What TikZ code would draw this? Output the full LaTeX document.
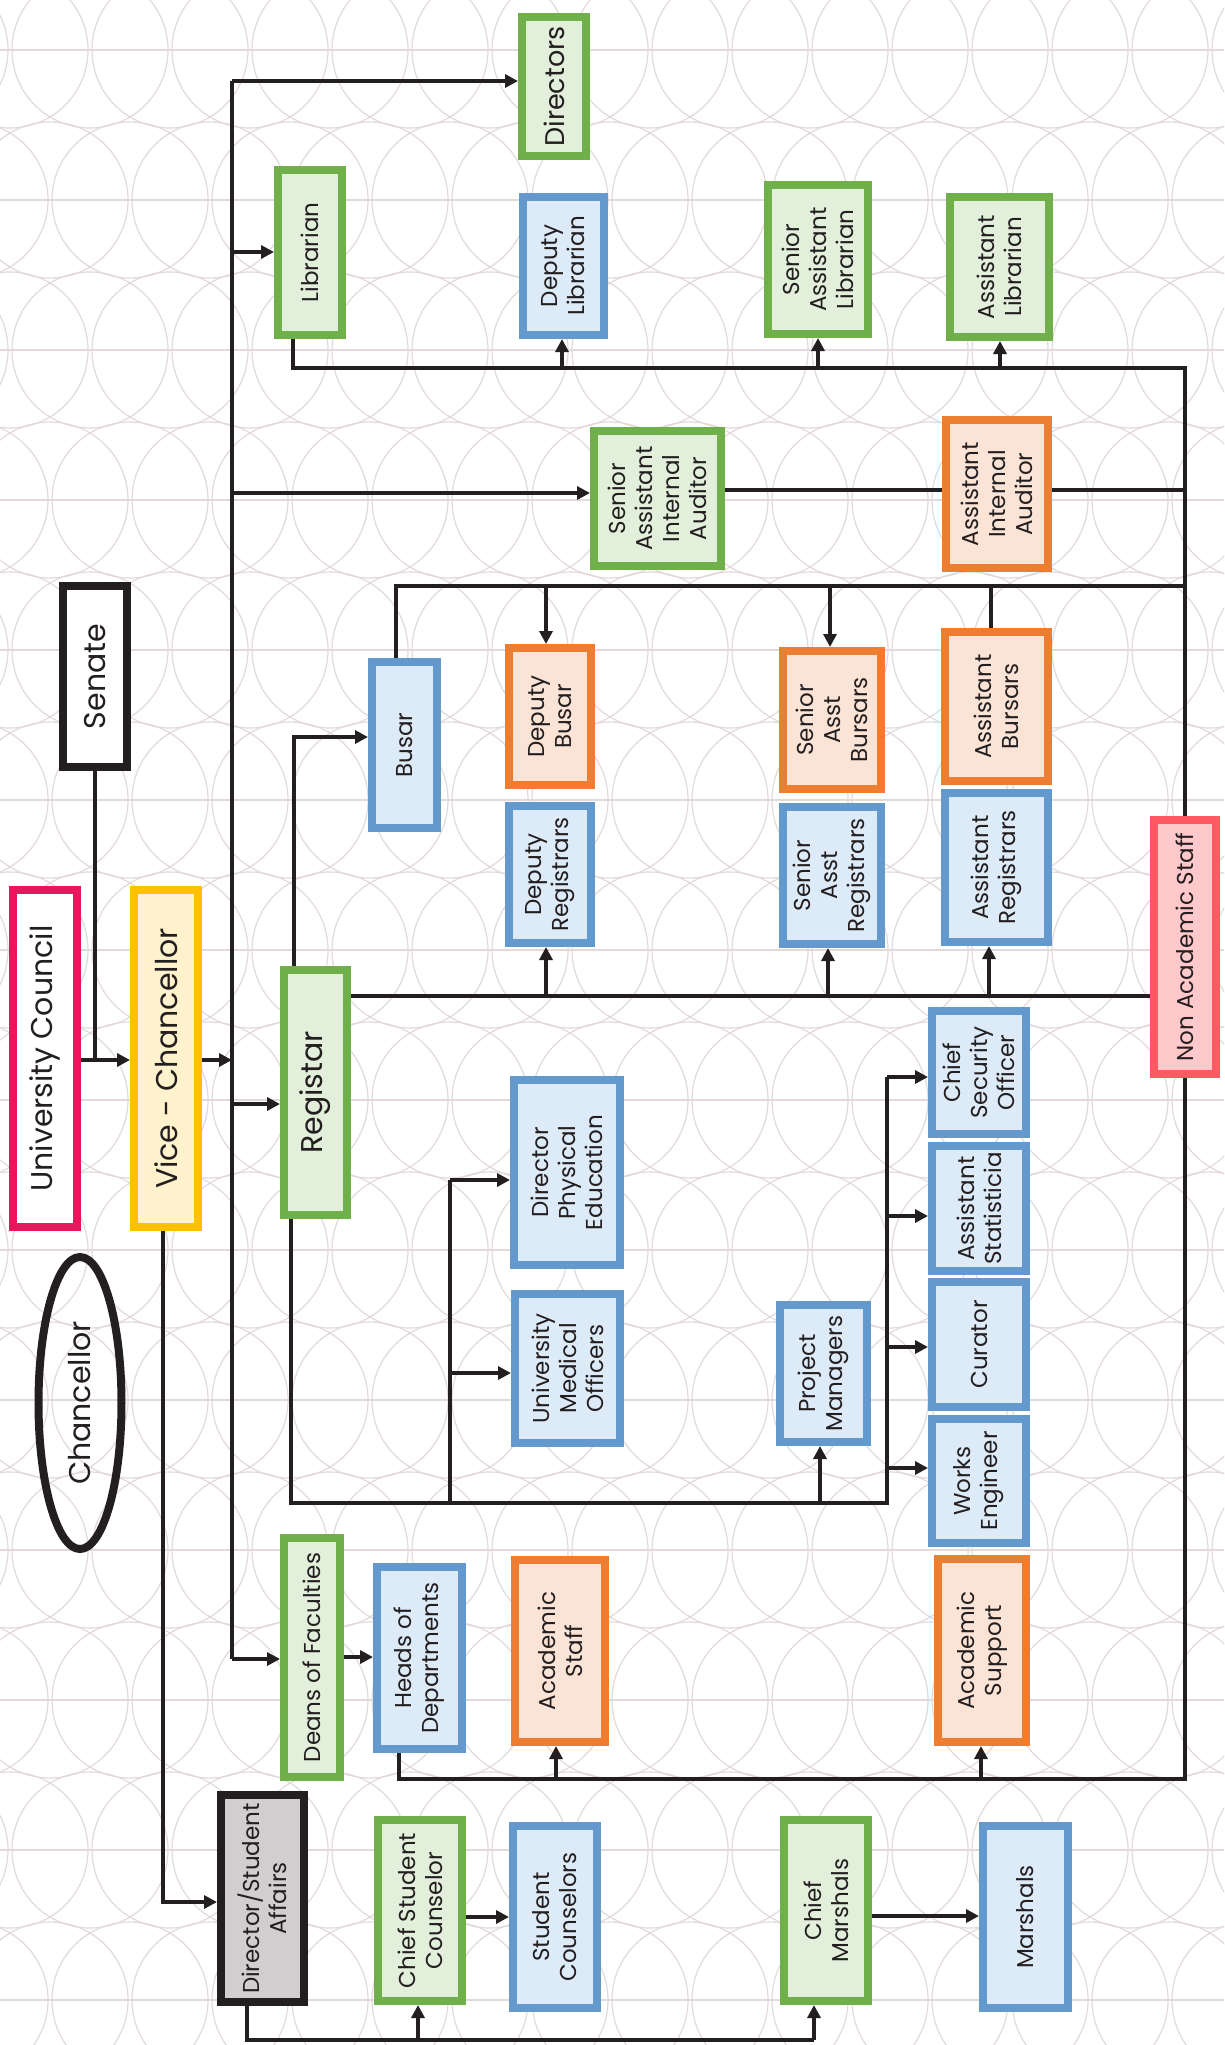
\documentclass[tikz,border=0pt]{standalone}
\usepackage{fontspec}
\setmainfont{Poppins}
\usetikzlibrary{arrows.meta,shapes.geometric}
\definecolor{ink}{HTML}{231F20}
\definecolor{gB}{HTML}{70B04A}
\definecolor{gF}{HTML}{E2EFDA}
\definecolor{bB}{HTML}{6399CC}
\definecolor{bF}{HTML}{DDEAF7}
\definecolor{oB}{HTML}{ED7D31}
\definecolor{oF}{HTML}{FBE4D6}
\definecolor{rB}{HTML}{FF5A64}
\definecolor{rF}{HTML}{FFC8CA}
\definecolor{ucB}{HTML}{E8175D}
\definecolor{vcB}{HTML}{FFC000}
\definecolor{vcF}{HTML}{FFF2CC}
\definecolor{dsaF}{HTML}{D0CECE}
\definecolor{patc}{HTML}{E3D9D9}
\pgfdeclarelayer{bg}
\pgfdeclarelayer{lines}
\pgfsetlayers{bg,lines,main}
\tikzset{
  ln/.style={draw=ink, line width=4.5pt},
  arr/.style={ln, -{Triangle[length=13pt,width=13pt]}},
  box/.style={rotate=90, draw, line width=8pt, align=center, inner sep=0pt,
    text=ink, font=\fontsize{23}{27}\selectfont},
  big/.style={font=\fontsize{30}{34}\selectfont},
  gbox/.style={box, draw=gB, fill=gF},
  bbox/.style={box, draw=bB, fill=bF},
  obox/.style={box, draw=oB, fill=oF},
  pat/.style={draw=patc, line width=1.2pt}
}
\begin{document}
\begin{tikzpicture}[x=1pt,y=-1pt]
\useasboundingbox (0,0) rectangle (1224,2045);
\begin{pgfonlayer}{bg}
\fill[white] (0,0) rectangle (1224,2045);
\begin{scope}
\clip (0,0) rectangle (1224,2045);
\foreach \j in {0,...,14}{
  \pgfmathsetmacro\yy{50+150*\j}
  \pgfmathsetmacro\off{40*mod(\j,2)}
  \draw[pat] (0,\yy) -- (1224,\yy);
  \foreach \i in {-1,...,16}{
    \draw[pat] ({10+80*\i+\off},\yy) circle[radius=78];
  }
}
\end{scope}
\end{pgfonlayer}

% nodes
\node[gbox, font=\fontsize{27}{31}\selectfont, minimum width=139pt, minimum height=64pt] (dirs) at (554,86.5) {Directors};
\node[gbox, minimum width=165pt, minimum height=64pt] (lib) at (310,252.5) {Librarian};
\node[bbox, minimum width=138pt, minimum height=81pt] (dlib) at (563.5,266) {Deputy\\Librarian};
\node[gbox, minimum width=149pt, minimum height=100pt] (salib) at (818,259.5) {Senior\\Assistant\\Librarian};
\node[gbox, minimum width=140pt, minimum height=99pt] (alib) at (999.5,267) {Assistant\\Librarian};
\node[gbox, minimum width=135pt, minimum height=127pt] (saia) at (657.5,498.5) {Senior\\Assistant\\Internal\\Auditor};
\node[obox, minimum width=148pt, minimum height=102pt] (aia) at (997,494) {Assistant\\Internal\\Auditor};
\node[box, big, draw=ink, fill=white, minimum width=181pt, minimum height=64pt] (senate) at (95,676.5) {Senate};
\node[bbox, minimum width=166pt, minimum height=65pt] (busar) at (404.5,745) {Busar};
\node[obox, minimum width=137pt, minimum height=82pt] (dbusar) at (550,716.5) {Deputy\\Busar};
\node[obox, minimum width=138pt, minimum height=98pt] (sab) at (832,720) {Senior\\Asst\\Bursars};
\node[obox, minimum width=149pt, minimum height=103pt] (ab) at (996.5,706.5) {Assistant\\Bursars};
\node[bbox, minimum width=137pt, minimum height=82pt] (dreg) at (550,874.5) {Deputy\\Registrars};
\node[bbox, minimum width=137pt, minimum height=98pt] (sar) at (832,875.5) {Senior\\Asst\\Registrars};
\node[bbox, minimum width=149pt, minimum height=103pt] (areg) at (996.5,867.5) {Assistant\\Registrars};
\node[box, draw=rB, fill=rF, minimum width=254pt, minimum height=62pt] (nas) at (1185,947) {Non Academic Staff};
\node[box, big, draw=ucB, fill=white, minimum width=337pt, minimum height=64pt] (uc) at (45,1058.5) {University Council};
\node[box, big, draw=vcB, fill=vcF, minimum width=337pt, minimum height=64pt] (vc) at (166,1058.5) {Vice - Chancellor};
\node[gbox, big, minimum width=245pt, minimum height=63pt] (reg) at (315.5,1092.5) {Registar};
\node[bbox, minimum width=123pt, minimum height=94pt] (cso) at (979,1072.5) {Chief\\Security\\Officer};
\node[bbox, minimum width=125pt, minimum height=94pt] (astat) at (979,1208.5) {Assistant\\Statisticia};
\node[bbox, minimum width=125pt, minimum height=94pt] (cur) at (979,1344.5) {Curator};
\node[bbox, minimum width=124pt, minimum height=94pt] (we) at (979,1481) {Works\\Engineer};
\node[bbox, minimum width=185pt, minimum height=106pt] (dpe) at (567,1172.5) {Director\\Physical\\Education};
\node[bbox, minimum width=149pt, minimum height=105pt] (umo) at (567.5,1368.5) {University\\Medical\\Officers};
\node[bbox, minimum width=137pt, minimum height=87pt] (pm) at (823.5,1373.5) {Project\\Managers};
\node[ellipse, rotate=90, draw=ink, line width=8pt, inner sep=0pt, text=ink, big, minimum width=292pt, minimum height=83pt] (chanc) at (80,1403) {Chancellor};
\node[gbox, minimum width=239pt, minimum height=56pt] (deans) at (312,1657.5) {Deans of Faculties};
\node[bbox, minimum width=182pt, minimum height=85pt] (heads) at (419.5,1658) {Heads of\\Departments};
\node[obox, minimum width=182pt, minimum height=90pt] (acst) at (560,1651) {Academic\\Staff};
\node[obox, minimum width=183pt, minimum height=88pt] (acsup) at (982,1650.5) {Academic\\Support};
\node[box, draw=ink, fill=dsaF, minimum width=207pt, minimum height=83pt] (dsa) at (262.5,1898.5) {Director/Student\\Affairs};
\node[gbox, minimum width=181pt, minimum height=84pt] (csc) at (420,1910.5) {Chief Student\\Counselor};
\node[bbox, minimum width=182pt, minimum height=84pt] (sc) at (555,1917) {Student\\Counselors};
\node[gbox, minimum width=181pt, minimum height=84pt] (cm) at (826,1910.5) {Chief\\Marshals};
\node[bbox, minimum width=182pt, minimum height=85pt] (mars) at (1025.5,1917) {Marshals};

\begin{pgfonlayer}{lines}
% main trunk
\coordinate (tTop) at (232,81);
\coordinate (tLib) at (232,252);
\coordinate (tSaia) at (232,493);
\coordinate (tVC) at (232,1060);
\coordinate (tReg) at (232,1104);
\coordinate (tDeans) at (232,1659);
\draw[ln] (tTop) -- (tDeans);
\draw[arr] (tTop) -- (tTop -| dirs.north);
\draw[arr] (tLib) -- (tLib -| lib.north);
\draw[arr] (tSaia) -- (tSaia -| saia.north);
\draw[arr] (tReg) -- (tReg -| reg.north);
\draw[arr] (tDeans) -- (tDeans -| deans.north);
\draw[arr] (tVC -| vc.south) -- (tVC);
% senate / council
\coordinate (sj) at (96,1060);
\draw[ln] (senate.west) -- (senate.west |- sj);
\draw[arr] (sj -| uc.south) -- (sj -| vc.north);
% librarian bus, right vertical, heads bus
\coordinate (lb) at (293,368);
\coordinate (rc) at (1185,368);
\coordinate (hc) at (1185,1779);
\coordinate (hb) at (399,1779);
\draw[ln] (lb |- lib.west) -- (lb) -- (rc) -- (hc) -- (hb) -- (hb |- heads.west);
\coordinate (l1) at (562,368);
\coordinate (l2) at (818,368);
\coordinate (l3) at (1000,368);
\draw[arr] (l1) -- (l1 |- dlib.west);
\draw[arr] (l2) -- (l2 |- salib.west);
\draw[arr] (l3) -- (l3 |- alib.west);
\coordinate (a1) at (556,1779);
\coordinate (a2) at (981,1779);
\draw[arr] (a1) -- (a1 |- acst.west);
\draw[arr] (a2) -- (a2 |- acsup.west);
% auditors
\coordinate (au) at (725,490);
\draw[ln] (au -| saia.south) -- (au -| rc);
% busar bus
\coordinate (bb) at (396,586);
\draw[ln] (bb |- busar.east) -- (bb) -- (bb -| rc);
\coordinate (b1) at (546,586);
\coordinate (b2) at (830,586);
\coordinate (b3) at (991,586);
\draw[arr] (b1) -- (b1 |- dbusar.east);
\draw[arr] (b2) -- (b2 |- sab.east);
\draw[ln] (b3) -- (b3 |- ab.east);
% registar -> busar
\coordinate (rb) at (294,737);
\draw[arr] (rb |- reg.east) -- (rb) -- (rb -| busar.north);
% registar bus
\coordinate (rr) at (351,996);
\draw[ln] (rr -| reg.south) -- (rr -| nas.north);
\coordinate (r1) at (546,996);
\coordinate (r2) at (828,996);
\coordinate (r3) at (989,996);
\draw[arr] (r1) -- (r1 |- dreg.west);
\draw[arr] (r2) -- (r2 |- sar.west);
\draw[arr] (r3) -- (r3 |- areg.west);
% registar bottom
\coordinate (rbt) at (291,1503);
\coordinate (rbe) at (887,1503);
\coordinate (rbu) at (887,1077);
\draw[ln] (rbt |- reg.west) -- (rbt) -- (rbe) -- (rbu);
\coordinate (br) at (450,1503);
\coordinate (br1) at (450,1180);
\coordinate (br2) at (450,1373);
\draw[ln] (br) -- (br1);
\draw[arr] (br1) -- (br1 -| dpe.north);
\draw[arr] (br2) -- (br2 -| umo.north);
\coordinate (pmx) at (820,1503);
\draw[arr] (pmx) -- (pmx |- pm.west);
\coordinate (e2) at (887,1216);
\coordinate (e3) at (887,1347);
\coordinate (e4) at (887,1468);
\draw[arr] (rbu) -- (rbu -| cso.north);
\draw[arr] (e2) -- (e2 -| astat.north);
\draw[arr] (e3) -- (e3 -| cur.north);
\draw[arr] (e4) -- (e4 -| we.north);
% VC down to student affairs
\coordinate (vd) at (163,1902);
\draw[arr] (vd |- vc.west) -- (vd) -- (vd -| dsa.north);
% deans -> heads
\coordinate (dh) at (344,1657);
\draw[arr] (dh -| deans.south) -- (dh -| heads.north);
% student affairs bottom
\coordinate (db) at (247,2040);
\coordinate (dbe) at (814,2040);
\coordinate (dc) at (418,2040);
\draw[ln] (db |- dsa.west) -- (db) -- (dbe);
\draw[arr] (dbe) -- (dbe |- cm.west);
\draw[arr] (dc) -- (dc |- csc.west);
\coordinate (cs) at (466,1917);
\draw[arr] (cs -| csc.south) -- (cs -| sc.north);
\coordinate (cmm) at (872,1916);
\draw[arr] (cmm -| cm.south) -- (cmm -| mars.north);
\end{pgfonlayer}
\end{tikzpicture}
\end{document}
